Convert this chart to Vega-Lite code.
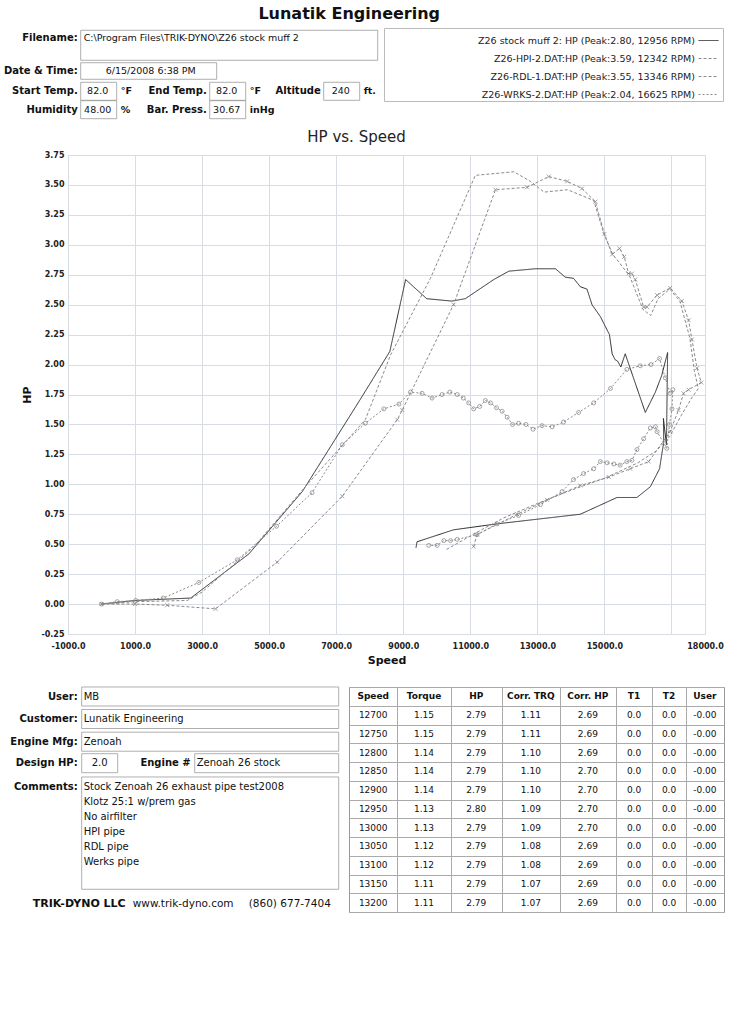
{
  "$schema": "https://vega.github.io/schema/vega-lite/v6.json",
  "padding": {"left": 3, "top": 5, "right": 5, "bottom": 5},
  "bounds": "flush",
  "spacing": 53,
  "title": {"text": "Lunatik Engineering", "font": "DejaVu Sans", "fontSize": 16, "fontWeight": "bold", "color": "#111", "anchor": "middle", "dx": -15, "offset": 6},
  "config": {"view": {"stroke": null}, "font": "DejaVu Sans"},
  "datasets": {
    "header": [
      {"line": 1, "col": 1, "label": "Filename:", "value": "C:\\Program Files\\TRIK-DYNO\\Z26 stock muff 2", "unit": ""},
      {"line": 2, "col": 1, "label": "Date & Time:", "value": "6/15/2008 6:38 PM", "unit": ""},
      {"line": 3, "col": 1, "label": "Start Temp.", "value": "82.0", "unit": "°F"},
      {"line": 3, "col": 2, "label": "End Temp.", "value": "82.0", "unit": "°F"},
      {"line": 3, "col": 3, "label": "Altitude", "value": "240", "unit": "ft."},
      {"line": 4, "col": 1, "label": "Humidity", "value": "48.00", "unit": "%"},
      {"line": 4, "col": 2, "label": "Bar. Press.", "value": "30.67", "unit": "inHg"}
    ],
    "info": [
      {"line": 1, "col": 1, "label": "User:", "value": "MB"},
      {"line": 2, "col": 1, "label": "Customer:", "value": "Lunatik Engineering"},
      {"line": 3, "col": 1, "label": "Engine Mfg:", "value": "Zenoah"},
      {"line": 4, "col": 1, "label": "Design HP:", "value": "2.0"},
      {"line": 4, "col": 2, "label": "Engine #", "value": "Zenoah 26 stock"},
      {"line": 5, "col": 1, "label": "Comments:", "value": "Stock Zenoah 26 exhaust pipe test2008"},
      {"line": 6, "col": 1, "label": "", "value": "Klotz 25:1 w/prem gas"},
      {"line": 7, "col": 1, "label": "", "value": "No airfilter"},
      {"line": 8, "col": 1, "label": "", "value": "HPI pipe"},
      {"line": 9, "col": 1, "label": "", "value": "RDL pipe"},
      {"line": 10, "col": 1, "label": "", "value": "Werks pipe"}
    ],
    "cols": [
      {"key": "Speed", "name": "Speed", "ci": 0},
      {"key": "Torque", "name": "Torque", "ci": 1},
      {"key": "HP", "name": "HP", "ci": 2},
      {"key": "CorrTRQ", "name": "Corr. TRQ", "ci": 3},
      {"key": "CorrHP", "name": "Corr. HP", "ci": 4},
      {"key": "T1", "name": "T1", "ci": 5},
      {"key": "T2", "name": "T2", "ci": 6},
      {"key": "User", "name": "User", "ci": 7}
    ],
    "table": [
      {"Speed": "12700", "Torque": "1.15", "HP": "2.79", "CorrTRQ": "1.11", "CorrHP": "2.69", "T1": "0.0", "T2": "0.0", "User": "-0.00"},
      {"Speed": "12750", "Torque": "1.15", "HP": "2.79", "CorrTRQ": "1.11", "CorrHP": "2.69", "T1": "0.0", "T2": "0.0", "User": "-0.00"},
      {"Speed": "12800", "Torque": "1.14", "HP": "2.79", "CorrTRQ": "1.10", "CorrHP": "2.69", "T1": "0.0", "T2": "0.0", "User": "-0.00"},
      {"Speed": "12850", "Torque": "1.14", "HP": "2.79", "CorrTRQ": "1.10", "CorrHP": "2.70", "T1": "0.0", "T2": "0.0", "User": "-0.00"},
      {"Speed": "12900", "Torque": "1.14", "HP": "2.79", "CorrTRQ": "1.10", "CorrHP": "2.70", "T1": "0.0", "T2": "0.0", "User": "-0.00"},
      {"Speed": "12950", "Torque": "1.13", "HP": "2.80", "CorrTRQ": "1.09", "CorrHP": "2.70", "T1": "0.0", "T2": "0.0", "User": "-0.00"},
      {"Speed": "13000", "Torque": "1.13", "HP": "2.79", "CorrTRQ": "1.09", "CorrHP": "2.70", "T1": "0.0", "T2": "0.0", "User": "-0.00"},
      {"Speed": "13050", "Torque": "1.12", "HP": "2.79", "CorrTRQ": "1.08", "CorrHP": "2.69", "T1": "0.0", "T2": "0.0", "User": "-0.00"},
      {"Speed": "13100", "Torque": "1.12", "HP": "2.79", "CorrTRQ": "1.08", "CorrHP": "2.69", "T1": "0.0", "T2": "0.0", "User": "-0.00"},
      {"Speed": "13150", "Torque": "1.11", "HP": "2.79", "CorrTRQ": "1.07", "CorrHP": "2.69", "T1": "0.0", "T2": "0.0", "User": "-0.00"},
      {"Speed": "13200", "Torque": "1.11", "HP": "2.79", "CorrTRQ": "1.07", "CorrHP": "2.69", "T1": "0.0", "T2": "0.0", "User": "-0.00"}
    ],
    "curves": [
      {"series": "stock", "n": 0, "speed": 0, "hp": 0.00},
      {"series": "stock", "n": 1, "speed": 1000, "hp": 0.03},
      {"series": "stock", "n": 2, "speed": 2660, "hp": 0.05},
      {"series": "stock", "n": 3, "speed": 4400, "hp": 0.42},
      {"series": "stock", "n": 4, "speed": 5990, "hp": 0.94},
      {"series": "stock", "n": 5, "speed": 7720, "hp": 1.71},
      {"series": "stock", "n": 6, "speed": 8600, "hp": 2.11},
      {"series": "stock", "n": 7, "speed": 9070, "hp": 2.71},
      {"series": "stock", "n": 8, "speed": 9700, "hp": 2.55},
      {"series": "stock", "n": 9, "speed": 10450, "hp": 2.53},
      {"series": "stock", "n": 10, "speed": 10850, "hp": 2.55},
      {"series": "stock", "n": 11, "speed": 11700, "hp": 2.71},
      {"series": "stock", "n": 12, "speed": 12150, "hp": 2.78},
      {"series": "stock", "n": 13, "speed": 12940, "hp": 2.80},
      {"series": "stock", "n": 14, "speed": 13540, "hp": 2.80},
      {"series": "stock", "n": 15, "speed": 13830, "hp": 2.73},
      {"series": "stock", "n": 16, "speed": 14080, "hp": 2.72},
      {"series": "stock", "n": 17, "speed": 14280, "hp": 2.65},
      {"series": "stock", "n": 18, "speed": 14480, "hp": 2.63},
      {"series": "stock", "n": 19, "speed": 14630, "hp": 2.50},
      {"series": "stock", "n": 20, "speed": 14880, "hp": 2.40},
      {"series": "stock", "n": 21, "speed": 15150, "hp": 2.25},
      {"series": "stock", "n": 22, "speed": 15230, "hp": 2.09},
      {"series": "stock", "n": 23, "speed": 15320, "hp": 2.04},
      {"series": "stock", "n": 24, "speed": 15390, "hp": 2.03},
      {"series": "stock", "n": 25, "speed": 15490, "hp": 1.98},
      {"series": "stock", "n": 26, "speed": 15620, "hp": 2.09},
      {"series": "stock", "n": 27, "speed": 16220, "hp": 1.60},
      {"series": "stock", "n": 28, "speed": 16520, "hp": 1.77},
      {"series": "stock", "n": 29, "speed": 16710, "hp": 1.91},
      {"series": "stock", "n": 30, "speed": 16885, "hp": 2.10},
      {"series": "stock", "n": 31, "speed": 16850, "hp": 1.33},
      {"series": "stock", "n": 32, "speed": 16760, "hp": 1.55},
      {"series": "stock", "n": 33, "speed": 16770, "hp": 1.35},
      {"series": "stock", "n": 34, "speed": 16716, "hp": 1.26},
      {"series": "stock", "n": 35, "speed": 16645, "hp": 1.13},
      {"series": "stock", "n": 36, "speed": 16370, "hp": 0.98},
      {"series": "stock", "n": 37, "speed": 15970, "hp": 0.89},
      {"series": "stock", "n": 38, "speed": 15375, "hp": 0.89},
      {"series": "stock", "n": 39, "speed": 14280, "hp": 0.75},
      {"series": "stock", "n": 40, "speed": 11800, "hp": 0.67},
      {"series": "stock", "n": 41, "speed": 10500, "hp": 0.62},
      {"series": "stock", "n": 42, "speed": 9410, "hp": 0.52},
      {"series": "stock", "n": 43, "speed": 9380, "hp": 0.47},
      {"series": "HPI", "n": 0, "speed": 0, "hp": 0.00},
      {"series": "HPI", "n": 1, "speed": 1000, "hp": 0.02},
      {"series": "HPI", "n": 2, "speed": 2560, "hp": 0.03},
      {"series": "HPI", "n": 3, "speed": 3000, "hp": 0.10},
      {"series": "HPI", "n": 4, "speed": 4550, "hp": 0.48},
      {"series": "HPI", "n": 5, "speed": 6140, "hp": 1.00},
      {"series": "HPI", "n": 6, "speed": 7870, "hp": 1.54},
      {"series": "HPI", "n": 7, "speed": 8620, "hp": 2.08},
      {"series": "HPI", "n": 8, "speed": 9810, "hp": 2.72},
      {"series": "HPI", "n": 9, "speed": 11150, "hp": 3.58},
      {"series": "HPI", "n": 10, "speed": 12300, "hp": 3.61},
      {"series": "HPI", "n": 11, "speed": 12790, "hp": 3.53},
      {"series": "HPI", "n": 12, "speed": 13200, "hp": 3.44},
      {"series": "HPI", "n": 13, "speed": 13900, "hp": 3.46},
      {"series": "HPI", "n": 14, "speed": 14680, "hp": 3.37},
      {"series": "HPI", "n": 15, "speed": 15000, "hp": 3.08},
      {"series": "HPI", "n": 16, "speed": 15250, "hp": 2.92},
      {"series": "HPI", "n": 17, "speed": 15750, "hp": 2.74},
      {"series": "HPI", "n": 18, "speed": 16150, "hp": 2.46},
      {"series": "HPI", "n": 19, "speed": 16380, "hp": 2.41},
      {"series": "HPI", "n": 20, "speed": 16600, "hp": 2.55},
      {"series": "HPI", "n": 21, "speed": 16950, "hp": 2.63},
      {"series": "HPI", "n": 22, "speed": 17250, "hp": 2.53},
      {"series": "HPI", "n": 23, "speed": 17550, "hp": 2.22},
      {"series": "HPI", "n": 24, "speed": 17680, "hp": 1.95},
      {"series": "HPI", "n": 25, "speed": 17800, "hp": 1.80},
      {"series": "HPI", "n": 26, "speed": 17600, "hp": 1.72},
      {"series": "HPI", "n": 27, "speed": 17300, "hp": 1.58},
      {"series": "HPI", "n": 28, "speed": 16950, "hp": 1.40},
      {"series": "HPI", "n": 29, "speed": 16550, "hp": 1.28},
      {"series": "HPI", "n": 30, "speed": 16000, "hp": 1.18},
      {"series": "HPI", "n": 31, "speed": 15000, "hp": 1.05},
      {"series": "HPI", "n": 32, "speed": 14000, "hp": 0.95},
      {"series": "HPI", "n": 33, "speed": 13000, "hp": 0.84},
      {"series": "HPI", "n": 34, "speed": 12000, "hp": 0.72},
      {"series": "HPI", "n": 35, "speed": 11200, "hp": 0.60},
      {"series": "HPI", "n": 36, "speed": 10250, "hp": 0.45},
      {"series": "RDL", "n": 0, "speed": 0, "hp": 0.00},
      {"series": "RDL", "n": 1, "speed": 1000, "hp": 0.00},
      {"series": "RDL", "n": 2, "speed": 1960, "hp": -0.01},
      {"series": "RDL", "n": 3, "speed": 3400, "hp": -0.04},
      {"series": "RDL", "n": 4, "speed": 5240, "hp": 0.35},
      {"series": "RDL", "n": 5, "speed": 7180, "hp": 0.90},
      {"series": "RDL", "n": 6, "speed": 8820, "hp": 1.54},
      {"series": "RDL", "n": 7, "speed": 8970, "hp": 1.62},
      {"series": "RDL", "n": 8, "speed": 10500, "hp": 2.50},
      {"series": "RDL", "n": 9, "speed": 11750, "hp": 3.46},
      {"series": "RDL", "n": 10, "speed": 12690, "hp": 3.48},
      {"series": "RDL", "n": 11, "speed": 13340, "hp": 3.57},
      {"series": "RDL", "n": 12, "speed": 13890, "hp": 3.53},
      {"series": "RDL", "n": 13, "speed": 14330, "hp": 3.47},
      {"series": "RDL", "n": 14, "speed": 14730, "hp": 3.36},
      {"series": "RDL", "n": 15, "speed": 15000, "hp": 3.09},
      {"series": "RDL", "n": 16, "speed": 15230, "hp": 2.92},
      {"series": "RDL", "n": 17, "speed": 15450, "hp": 2.97},
      {"series": "RDL", "n": 18, "speed": 15590, "hp": 2.90},
      {"series": "RDL", "n": 19, "speed": 15720, "hp": 2.76},
      {"series": "RDL", "n": 20, "speed": 15820, "hp": 2.76},
      {"series": "RDL", "n": 21, "speed": 15920, "hp": 2.71},
      {"series": "RDL", "n": 22, "speed": 16170, "hp": 2.48},
      {"series": "RDL", "n": 23, "speed": 16270, "hp": 2.48},
      {"series": "RDL", "n": 24, "speed": 16570, "hp": 2.58},
      {"series": "RDL", "n": 25, "speed": 16960, "hp": 2.64},
      {"series": "RDL", "n": 26, "speed": 17310, "hp": 2.53},
      {"series": "RDL", "n": 27, "speed": 17510, "hp": 2.37},
      {"series": "RDL", "n": 28, "speed": 17610, "hp": 2.21},
      {"series": "RDL", "n": 29, "speed": 17760, "hp": 1.97},
      {"series": "RDL", "n": 30, "speed": 17890, "hp": 1.85},
      {"series": "RDL", "n": 31, "speed": 17510, "hp": 1.79},
      {"series": "RDL", "n": 32, "speed": 17360, "hp": 1.76},
      {"series": "RDL", "n": 33, "speed": 17210, "hp": 1.62},
      {"series": "RDL", "n": 34, "speed": 16960, "hp": 1.44},
      {"series": "RDL", "n": 35, "speed": 16320, "hp": 1.19},
      {"series": "RDL", "n": 36, "speed": 15770, "hp": 1.13},
      {"series": "RDL", "n": 37, "speed": 15130, "hp": 1.06},
      {"series": "RDL", "n": 38, "speed": 14280, "hp": 0.99},
      {"series": "RDL", "n": 39, "speed": 13290, "hp": 0.87},
      {"series": "RDL", "n": 40, "speed": 12400, "hp": 0.75},
      {"series": "RDL", "n": 41, "speed": 11200, "hp": 0.58},
      {"series": "RDL", "n": 42, "speed": 11100, "hp": 0.48},
      {"series": "WRKS", "n": 0, "speed": 0, "hp": 0.00},
      {"series": "WRKS", "n": 1, "speed": 470, "hp": 0.02},
      {"series": "WRKS", "n": 2, "speed": 1020, "hp": 0.03},
      {"series": "WRKS", "n": 3, "speed": 1840, "hp": 0.05},
      {"series": "WRKS", "n": 4, "speed": 2900, "hp": 0.18},
      {"series": "WRKS", "n": 5, "speed": 4050, "hp": 0.37},
      {"series": "WRKS", "n": 6, "speed": 5220, "hp": 0.65},
      {"series": "WRKS", "n": 7, "speed": 6280, "hp": 0.93},
      {"series": "WRKS", "n": 8, "speed": 7180, "hp": 1.33},
      {"series": "WRKS", "n": 9, "speed": 7870, "hp": 1.51},
      {"series": "WRKS", "n": 10, "speed": 8420, "hp": 1.63},
      {"series": "WRKS", "n": 11, "speed": 8870, "hp": 1.67},
      {"series": "WRKS", "n": 12, "speed": 9215, "hp": 1.77},
      {"series": "WRKS", "n": 13, "speed": 9560, "hp": 1.76},
      {"series": "WRKS", "n": 14, "speed": 9860, "hp": 1.72},
      {"series": "WRKS", "n": 15, "speed": 10160, "hp": 1.75},
      {"series": "WRKS", "n": 16, "speed": 10390, "hp": 1.77},
      {"series": "WRKS", "n": 17, "speed": 10610, "hp": 1.75},
      {"series": "WRKS", "n": 18, "speed": 10790, "hp": 1.72},
      {"series": "WRKS", "n": 19, "speed": 10950, "hp": 1.68},
      {"series": "WRKS", "n": 20, "speed": 11100, "hp": 1.63},
      {"series": "WRKS", "n": 21, "speed": 11280, "hp": 1.65},
      {"series": "WRKS", "n": 22, "speed": 11450, "hp": 1.70},
      {"series": "WRKS", "n": 23, "speed": 11600, "hp": 1.68},
      {"series": "WRKS", "n": 24, "speed": 11780, "hp": 1.64},
      {"series": "WRKS", "n": 25, "speed": 11950, "hp": 1.61},
      {"series": "WRKS", "n": 26, "speed": 12100, "hp": 1.56},
      {"series": "WRKS", "n": 27, "speed": 12260, "hp": 1.50},
      {"series": "WRKS", "n": 28, "speed": 12440, "hp": 1.51},
      {"series": "WRKS", "n": 29, "speed": 12660, "hp": 1.50},
      {"series": "WRKS", "n": 30, "speed": 12870, "hp": 1.46},
      {"series": "WRKS", "n": 31, "speed": 13140, "hp": 1.49},
      {"series": "WRKS", "n": 32, "speed": 13440, "hp": 1.48},
      {"series": "WRKS", "n": 33, "speed": 13780, "hp": 1.52},
      {"series": "WRKS", "n": 34, "speed": 14230, "hp": 1.60},
      {"series": "WRKS", "n": 35, "speed": 14680, "hp": 1.68},
      {"series": "WRKS", "n": 36, "speed": 15180, "hp": 1.80},
      {"series": "WRKS", "n": 37, "speed": 15670, "hp": 1.96},
      {"series": "WRKS", "n": 38, "speed": 16070, "hp": 1.99},
      {"series": "WRKS", "n": 39, "speed": 16390, "hp": 2.00},
      {"series": "WRKS", "n": 40, "speed": 16645, "hp": 2.05},
      {"series": "WRKS", "n": 41, "speed": 16815, "hp": 1.89},
      {"series": "WRKS", "n": 42, "speed": 16960, "hp": 1.76},
      {"series": "WRKS", "n": 43, "speed": 17040, "hp": 1.79},
      {"series": "WRKS", "n": 44, "speed": 17015, "hp": 1.63},
      {"series": "WRKS", "n": 45, "speed": 16940, "hp": 1.50},
      {"series": "WRKS", "n": 46, "speed": 16860, "hp": 1.30},
      {"series": "WRKS", "n": 47, "speed": 16570, "hp": 1.44},
      {"series": "WRKS", "n": 48, "speed": 16520, "hp": 1.48},
      {"series": "WRKS", "n": 49, "speed": 16370, "hp": 1.47},
      {"series": "WRKS", "n": 50, "speed": 16170, "hp": 1.38},
      {"series": "WRKS", "n": 51, "speed": 15970, "hp": 1.29},
      {"series": "WRKS", "n": 52, "speed": 15820, "hp": 1.20},
      {"series": "WRKS", "n": 53, "speed": 15670, "hp": 1.19},
      {"series": "WRKS", "n": 54, "speed": 15470, "hp": 1.16},
      {"series": "WRKS", "n": 55, "speed": 15280, "hp": 1.17},
      {"series": "WRKS", "n": 56, "speed": 15080, "hp": 1.18},
      {"series": "WRKS", "n": 57, "speed": 14880, "hp": 1.19},
      {"series": "WRKS", "n": 58, "speed": 14680, "hp": 1.13},
      {"series": "WRKS", "n": 59, "speed": 14380, "hp": 1.09},
      {"series": "WRKS", "n": 60, "speed": 14080, "hp": 1.04},
      {"series": "WRKS", "n": 61, "speed": 13740, "hp": 0.94},
      {"series": "WRKS", "n": 62, "speed": 13090, "hp": 0.83},
      {"series": "WRKS", "n": 63, "speed": 12440, "hp": 0.74},
      {"series": "WRKS", "n": 64, "speed": 11800, "hp": 0.67},
      {"series": "WRKS", "n": 65, "speed": 11200, "hp": 0.58},
      {"series": "WRKS", "n": 66, "speed": 10610, "hp": 0.54},
      {"series": "WRKS", "n": 67, "speed": 10410, "hp": 0.53},
      {"series": "WRKS", "n": 68, "speed": 10210, "hp": 0.53},
      {"series": "WRKS", "n": 69, "speed": 10010, "hp": 0.49},
      {"series": "WRKS", "n": 70, "speed": 9760, "hp": 0.49}
    ]
  },
  "vconcat": [
    {
      "width": 656,
      "height": 72,
      "data": {"name": "header"},
      "encoding": {
        "x": {"field": "col", "type": "quantitative", "scale": {"domain": [1, 2, 3], "range": [12.7, 141.7, 255.7], "nice": false, "zero": false}, "axis": null},
        "y": {"field": "line", "type": "quantitative", "scale": {"domain": [1, 2, 3, 4], "range": [8, 41, 61.3, 79.7], "nice": false, "zero": false}, "axis": null}
      },
      "layer": [
        {"transform": [{"filter": "datum.line == 1"}], "mark": {"type": "point", "shape": "M0,-0.052H2V0.150H0Z", "size": 88209, "filled": false, "stroke": "#9a9a9a", "strokeWidth": 0.8, "opacity": 1}},
        {"transform": [{"filter": "datum.line == 2"}], "mark": {"type": "point", "shape": "M0,-0.122H2V0.122H0Z", "size": 18496, "filled": false, "stroke": "#9a9a9a", "strokeWidth": 0.8, "opacity": 1}},
        {"transform": [{"filter": "datum.line >= 3"}], "mark": {"type": "point", "shape": "M0,-0.5H2V0.5H0Z", "size": 1296, "filled": false, "stroke": "#9a9a9a", "strokeWidth": 0.8, "opacity": 1}},
        {"mark": {"type": "text", "align": "right", "baseline": "middle", "dx": -3, "fontSize": 10, "fontWeight": "bold", "color": "#111"}, "encoding": {"text": {"field": "label"}}},
        {"transform": [{"filter": "datum.line == 1"}], "mark": {"type": "text", "align": "left", "baseline": "middle", "dx": 3, "fontSize": 9.5, "color": "#111"}, "encoding": {"text": {"field": "value"}}},
        {"transform": [{"filter": "datum.line == 2"}], "mark": {"type": "text", "align": "center", "baseline": "middle", "dx": 70, "fontSize": 9.5, "color": "#111"}, "encoding": {"text": {"field": "value"}}},
        {"transform": [{"filter": "datum.line >= 3"}], "mark": {"type": "text", "align": "center", "baseline": "middle", "dx": 17, "fontSize": 9.5, "color": "#111"}, "encoding": {"text": {"field": "value"}}},
        {"mark": {"type": "text", "align": "left", "baseline": "middle", "dx": 40, "fontSize": 9.5, "fontWeight": "bold", "color": "#111"}, "encoding": {"text": {"field": "unit"}}}
      ]
    },
    {
      "width": 637,
      "height": 479,
      "data": {"name": "curves"},
      "title": {"text": "HP vs. Speed", "font": "DejaVu Sans", "fontSize": 15, "fontWeight": "normal", "color": "#222", "offset": 6, "dx": -30},
      "view": {"stroke": "#d8dde3"},
      "encoding": {
        "x": {
          "field": "speed", "type": "quantitative",
          "scale": {"domain": [-1000, 18000], "nice": false, "zero": false},
          "axis": {
            "values": [-1000, 1000, 3000, 5000, 7000, 9000, 11000, 13000, 15000, 17000, 18000],
            "labelExpr": "datum.value == 17000 ? '' : replace(format(datum.value, '.1f'), '\u2212', '-')",
            "labelFontSize": 8, "labelFontWeight": "bold", "labelColor": "#222", "labelPadding": 8,
            "labelFlush": false, "labelOverlap": false,
            "ticks": false, "domain": false, "gridColor": "#d8dde3",
            "title": "Speed", "titleFontSize": 11, "titleFontWeight": "bold", "titleColor": "#111", "titlePadding": 4
          }
        },
        "y": {
          "field": "hp", "type": "quantitative",
          "scale": {"domain": [-0.25, 3.75], "nice": false, "zero": false},
          "axis": {
            "values": [-0.25, 0, 0.25, 0.5, 0.75, 1, 1.25, 1.5, 1.75, 2, 2.25, 2.5, 2.75, 3, 3.25, 3.5, 3.75],
            "labelExpr": "replace(format(datum.value, '.2f'), '\u2212', '-')",
            "labelFontSize": 8, "labelFontWeight": "bold", "labelColor": "#222", "labelPadding": 4,
            "labelFlush": false, "labelOverlap": false,
            "ticks": false, "domain": false, "gridColor": "#d8dde3",
            "title": "HP", "titleFontSize": 11, "titleFontWeight": "bold", "titleColor": "#111", "titlePadding": 8
          }
        }
      },
      "layer": [
        {
          "mark": {"type": "line", "strokeWidth": 1},
          "encoding": {
            "order": {"field": "n", "type": "quantitative"},
            "color": {
              "field": "series", "type": "nominal",
              "scale": {"domain": ["stock", "HPI", "RDL", "WRKS"], "range": ["#2a2a2a", "#8a8a8a", "#8a8a8a", "#8a8a8a"]},
              "legend": {
                "orient": "none", "legendX": 316, "legendY": -2, "title": null,
                "labelExpr": "datum.label == 'stock' ? 'Z26 stock muff 2: HP (Peak:2.80, 12956 RPM)' : datum.label == 'HPI' ? 'Z26-HPI-2.DAT:HP (Peak:3.59, 12342 RPM)' : datum.label == 'RDL' ? 'Z26-RDL-1.DAT:HP (Peak:3.55, 13346 RPM)' : 'Z26-WRKS-2.DAT:HP (Peak:2.04, 16625 RPM)'",
                "labelFont": "DejaVu Sans", "labelFontSize": 9.5, "labelColor": "#222", "labelLimit": 400,
                "labelAlign": "right", "labelOffset": -24, "symbolOffset": 312,
                "symbolType": "stroke", "symbolSize": 400, "symbolStrokeWidth": 1,
                "strokeColor": "#bbb", "fillColor": "white", "padding": 2, "rowPadding": 3
              }
            },
            "strokeDash": {
              "field": "series", "type": "nominal",
              "scale": {"domain": ["stock", "HPI", "RDL", "WRKS"], "range": [[1, 0], [3, 2], [3, 2], [2, 2]]},
              "legend": {
                "orient": "none", "legendX": 316, "legendY": -2, "title": null,
                "labelExpr": "datum.label == 'stock' ? 'Z26 stock muff 2: HP (Peak:2.80, 12956 RPM)' : datum.label == 'HPI' ? 'Z26-HPI-2.DAT:HP (Peak:3.59, 12342 RPM)' : datum.label == 'RDL' ? 'Z26-RDL-1.DAT:HP (Peak:3.55, 13346 RPM)' : 'Z26-WRKS-2.DAT:HP (Peak:2.04, 16625 RPM)'",
                "labelFont": "DejaVu Sans", "labelFontSize": 9.5, "labelColor": "#222", "labelLimit": 400,
                "labelAlign": "right", "labelOffset": -24, "symbolOffset": 312,
                "symbolType": "stroke", "symbolSize": 400, "symbolStrokeWidth": 1,
                "strokeColor": "#bbb", "fillColor": "white", "padding": 2, "rowPadding": 3
              }
            }
          }
        },
        {
          "transform": [{"filter": "datum.series == 'RDL' || datum.series == 'WRKS'"}],
          "mark": {"type": "point", "filled": false, "size": 16, "strokeWidth": 0.7, "color": "#808080", "opacity": 1},
          "encoding": {
            "shape": {"field": "series", "type": "nominal", "scale": {"domain": ["RDL", "WRKS"], "range": ["M-1,-1L1,1M-1,1L1,-1", "circle"]}, "legend": null}
          }
        }
      ]
    },
    {
      "spacing": 10,
      "bounds": "flush",
      "hconcat": [
        {
          "width": 271,
          "height": 225,
          "data": {"name": "info"},
          "encoding": {
            "x": {"field": "col", "type": "quantitative", "scale": {"domain": [1, 2], "range": [13.7, 126.7], "nice": false, "zero": false}, "axis": null},
            "y": {"field": "line", "type": "quantitative", "scale": {"domain": [1, 2, 3, 4, 5, 10, 11], "range": [9.5, 32, 54.7, 76.2, 100, 175, 216.7], "nice": false, "zero": false}, "axis": null}
          },
          "layer": [
            {"transform": [{"filter": "datum.line <= 3"}], "mark": {"type": "point", "shape": "M0,-0.074H2V0.074H0Z", "size": 66049, "filled": false, "stroke": "#9a9a9a", "strokeWidth": 0.8, "opacity": 1}},
            {"transform": [{"filter": "datum.line == 4 && datum.col == 1"}], "mark": {"type": "point", "shape": "M0,-0.528H2V0.528H0Z", "size": 1296, "filled": false, "stroke": "#9a9a9a", "strokeWidth": 0.8, "opacity": 1}},
            {"transform": [{"filter": "datum.line == 4 && datum.col == 2"}], "mark": {"type": "point", "shape": "M0,-0.132H2V0.132H0Z", "size": 20736, "filled": false, "stroke": "#9a9a9a", "strokeWidth": 0.8, "opacity": 1}},
            {"transform": [{"filter": "datum.line == 5"}], "mark": {"type": "point", "shape": "M0,-0.078H2V0.796H0Z", "size": 66049, "filled": false, "stroke": "#9a9a9a", "strokeWidth": 0.8, "opacity": 1}},
            {"transform": [{"filter": "datum.label != ''"}], "mark": {"type": "text", "align": "right", "baseline": "middle", "dx": -4, "fontSize": 10, "fontWeight": "bold", "color": "#111"}, "encoding": {"text": {"field": "label"}}},
            {"transform": [{"filter": "!(datum.line == 4 && datum.col == 1)"}], "mark": {"type": "text", "align": "left", "baseline": "middle", "dx": 2, "fontSize": 10, "color": "#111"}, "encoding": {"text": {"field": "value"}}},
            {"transform": [{"filter": "datum.line == 4 && datum.col == 1"}], "mark": {"type": "text", "align": "center", "baseline": "middle", "dx": 18, "fontSize": 10, "color": "#111"}, "encoding": {"text": {"field": "value"}}},
            {
              "data": {"values": [{"line": 11, "col": 1, "name": "TRIK-DYNO LLC", "web": "www.trik-dyno.com", "phone": "(860) 677-7404"}]},
              "layer": [
                {"mark": {"type": "text", "align": "right", "baseline": "middle", "dx": 44, "fontSize": 11, "fontWeight": "bold", "color": "#111"}, "encoding": {"text": {"field": "name"}}},
                {"mark": {"type": "text", "align": "left", "baseline": "middle", "dx": 51, "fontSize": 10.5, "color": "#111"}, "encoding": {"text": {"field": "web"}}},
                {"mark": {"type": "text", "align": "left", "baseline": "middle", "dx": 167, "fontSize": 10.5, "color": "#111"}, "encoding": {"text": {"field": "phone"}}}
              ]
            }
          ]
        },
        {
          "width": 375,
          "height": 225,
          "view": {"stroke": "#999"},
          "layer": [
            {
              "data": {"name": "table"},
              "transform": [
                {"fold": ["Speed", "Torque", "HP", "CorrTRQ", "CorrHP", "T1", "T2", "User"], "as": ["key", "value"]},
                {"lookup": "key", "from": {"data": {"name": "cols"}, "key": "key", "fields": ["ci"]}}
              ],
              "mark": {"type": "text", "baseline": "middle", "fontSize": 9, "color": "#111"},
              "encoding": {
                "x": {
                  "field": "ci", "type": "quantitative",
                  "scale": {"domain": [-0.5, 0.5, 1.5, 2.5, 3.5, 4.5, 5.5, 6.5, 7.5], "range": [0, 48.4, 101.7, 152.7, 211, 266.7, 303.4, 336.7, 375], "nice": false, "zero": false},
                  "axis": {"values": [0.5, 1.5, 2.5, 3.5, 4.5, 5.5, 6.5], "grid": true, "gridColor": "#aaa", "labels": false, "ticks": false, "domain": false, "title": null}
                },
                "y": {
                  "field": "Speed", "type": "nominal",
                  "scale": {"type": "band", "paddingInner": 0, "paddingOuter": 0, "domain": ["hdr", "12700", "12750", "12800", "12850", "12900", "12950", "13000", "13050", "13100", "13150", "13200"]},
                  "axis": {"grid": true, "tickBand": "extent", "gridColor": "#aaa", "labels": false, "ticks": false, "domain": false, "title": null}
                },
                "text": {"field": "value"}
              }
            },
            {
              "data": {"name": "cols"},
              "mark": {"type": "text", "baseline": "middle", "fontSize": 9, "fontWeight": "bold", "color": "#111"},
              "encoding": {
                "x": {"field": "ci", "type": "quantitative"},
                "y": {"datum": "hdr", "type": "nominal"},
                "text": {"field": "name"}
              }
            }
          ]
        }
      ]
    }
  ]
}
